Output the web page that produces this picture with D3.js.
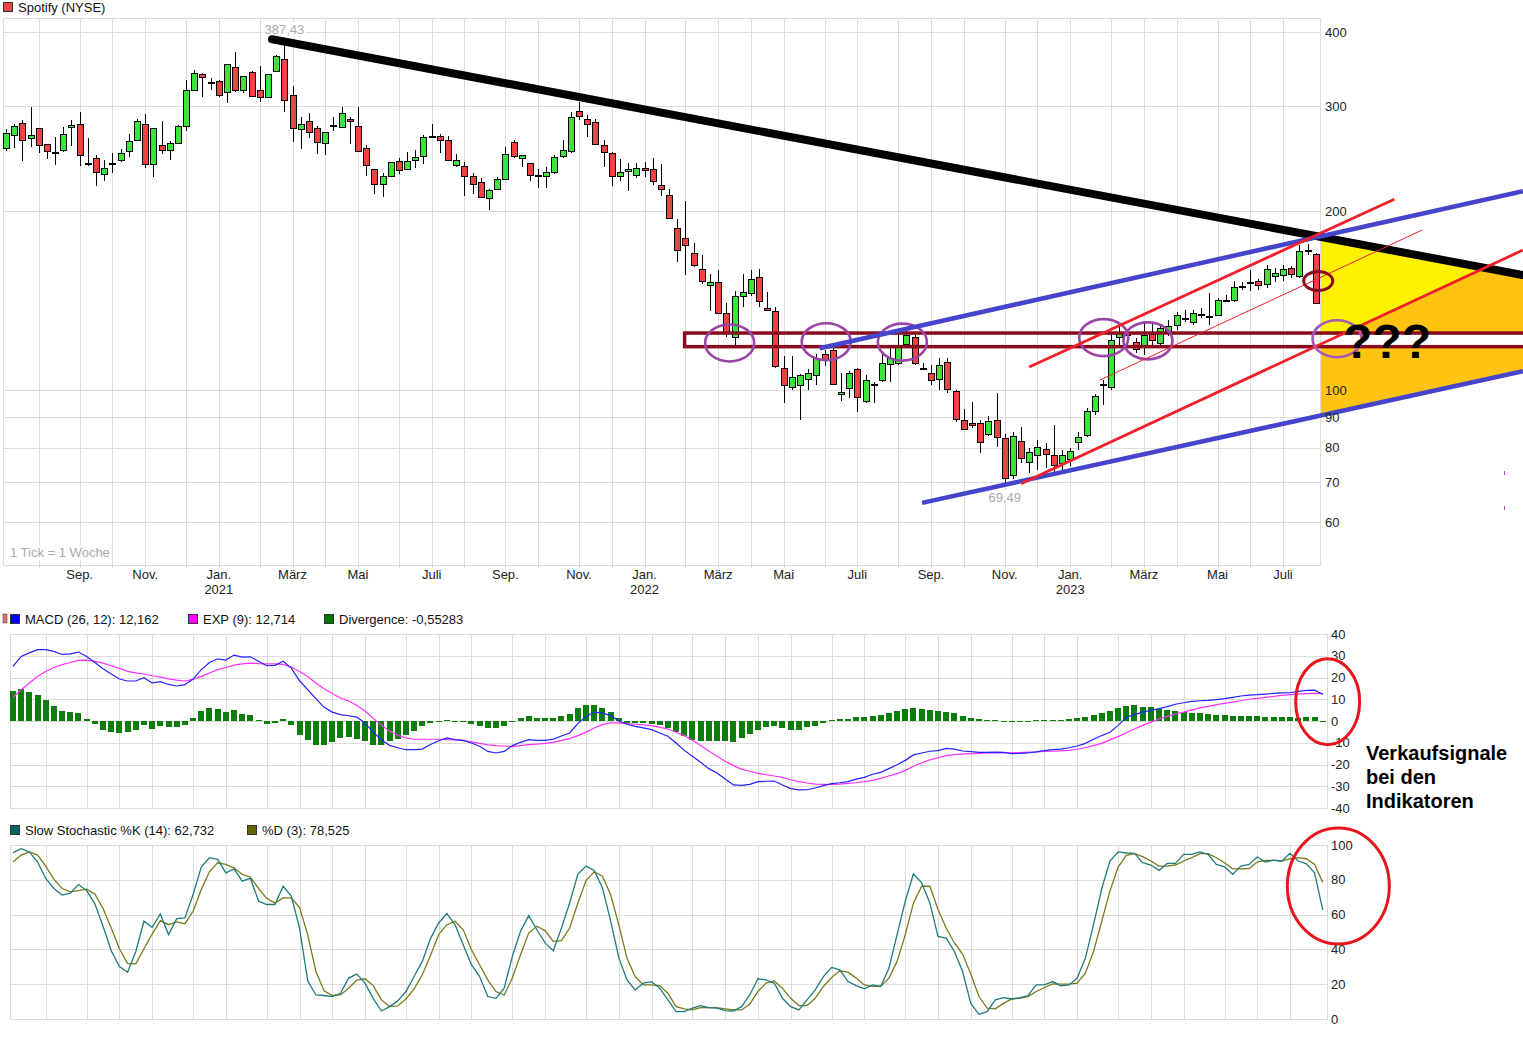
<!DOCTYPE html>
<html>
<head>
<meta charset="utf-8">
<script src="https://cdn.jsdelivr.net/npm/d3@7"></script>
<style>
  body { margin: 0; background: #fff; }
  svg { display: block; font-family: "Liberation Sans", Arial, sans-serif; }
</style>
</head>
<body>
<div id="chart"></div>
<script>
// weekly candles, first week starts Monday 29.06.2020
const START = new Date(2020, 5, 29);

const open = [256,268,281,265,276,259,251,254,277,280, 241,246,231,241,243,252,263,280,240,258,
  253,260,277,319,340,330,331,317,349,320, 343,319,311,343,360,313,275,283,276,261,
  279,277,286,278,255,235,222,229,243,236, 244,247,267,267,263,239,238,229,224,210,
  217,226,261,245,241,229,229,233,247,252, 295,286,282,258,250,229,233,230,236,235,
  221,213,187,180,170,160,150,152,135,123, 144,146,155,137.5,136,109,101,102,104.5,106,
  115,117,98.5,100.8,108.5,96,102,104,110.5,111, 119.5,122.7,109,107,104,111.3,99.6,89,88,88,
  84.3,89,83,72,82,75.7,77.8,79.6,77.8,75.4, 76.6,81.7,84,92.2,102,101,122.7,123.7,120.4,118.6,
  124.2,119.9,125.1,128.6,132,130,134,133.2,133.7,141.5, 141.7,149.5,151.9,152.5,150.7,155.5,156.1,160.3,155.5,171.9,
  169.3];
const high = [275,280,285,299,276,259,266,277,284,294, 265,248,244,250,254,269,286,291,276,283,
  262,279,332,345,341,335,332,354,370,338, 344,350,340,366,387.43,325,288,292,278,272,
  288,299,288,299,258,235,232,242,246,251, 253,268,280,269,267,249,242,232,227,218,
  228,256,263,248,241,235,237,248,263,293, 305,290,286,263,251,245,241,241,242,246,
  240,218,194,208,177,169,157,159,140,147, 157,159,160,146,138,114,114,106.5,108.5,115,
  117,117.5,107,107.5,109,106,103,115,118,124.7, 125.6,124,111,110,113,113,100,93,95.5,89,
  90.5,98.8,84.4,85,86.6,79.9,82.4,81.4,87.3,79.3, 80,85,93.3,98.5,104,124.2,128.6,126,122.2,130,
  130,128.6,131.1,135.3,136.3,136.3,137.4,145.5,142.8,144.4, 152.5,151.9,159,154,162.2,160.3,162.2,161.6,175.3,176,
  169.9];
const low = [252,255,243,256,250,245,239,251,257,238, 238,220,225,232,242,247,263,236,228,249,
  244,259,273,318,311,319,311,304,317,316, 312,305,310,342,294,261,254,265,249,248,
  273,277,259,252,229,214,211,229,231,236, 236,240,265,250,243,237,212,214,211,201,
  217,226,246,237,225,219,219,231,246,250, 284,266,258,237,220,225,216,227,228,221,
  212,194,164,156,161,151,136,134,123,119, 138,144,138,136,109,95,100,89,100,102,
  109.8,102,96,97,92,95,95,103,103,110, 118.6,110,108,102,100,99,88.4,85.7,86.3,78.4,
  83.7,80.1,69.49,71,75.5,72.5,73.4,74,72.8,73.4, 74.5,79.3,83.4,90.8,94.4,100,119,121.3,115.4,114.5,
  119,119,123.2,126.1,130,128.6,132.2,128.6,133.2,140.6, 140.6,147.3,146.7,147.3,148.4,151.9,152.5,154.3,154.3,168.6,
  139.5];
const close = [271,278,263,268,258,252,251.5,270,279,248, 240,233,236,240,250,262,283,240,276,253,
  260,278,319,341,336,329,314,353,319,338, 313,311,340,364,307,275,280,271,261,272,
  279.5,292,284,252,239,222,229,242,235,243, 247,266,267.5,263,243,244,229,222,211,217,
  226,249,247,248,230,229.5,233,247,253,288, 289,280,259,251,229,233,235,236,234,224,
  218,195,172,175,162,153,152,135,125,144, 146,154,141,136.5,110,102,105,106,107,113,
  113,102.5,99.2,107,97.5,104,102.3,111,113,118, 123.7,111,108.8,104,110,100.4,89.4,86,87.3,81.8,
  88.6,83.4,71,83.7,76.7,78.7,80.2,78.1,74.8,77.8, 79,83.4,92.2,97.7,102.3,121.3,124.7,124.2,117.2,123.7,
  121.3,127.1,128.1,133.7,132.2,134.7,134.2,133.4,141.7,141.7, 149,149.8,152.2,150,159.7,157.3,159.7,156.7,171.3,172.2,
  140.3];

// MACD (26, 12), EXP (9), divergence
const macdLine = [25.1,29.7,31.3,32.8,32.8,32.0,30.6,30.9,31.7,29.7, 26.9,24.0,21.6,19.3,18.4,18.4,19.9,17.5,18.1,16.8,
  16.1,16.7,19.3,23.6,26.9,28.6,28.0,30.3,29.4,29.5, 27.5,25.4,25.6,27.5,24.3,18.5,14.4,10.3,6.3,4.1,
  2.9,2.4,1.8,-0.9,-5.1,-8.6,-11.2,-12.3,-13.2,-13.2, -12.9,-10.8,-9.1,-7.8,-8.6,-8.9,-10.1,-11.6,-14.0,-14.7,
  -14.0,-11.3,-9.8,-8.6,-8.9,-8.9,-8.3,-6.9,-5.5,-1.2, 2.1,4.1,3.7,2.5,0.0,-1.5,-2.5,-3.2,-4.0,-5.5,
  -7.0,-10.1,-13.5,-16.2,-19.0,-21.9,-23.9,-26.7,-29.4,-29.6, -29.1,-27.9,-27.7,-27.6,-29.4,-31.1,-31.7,-31.6,-30.8,-29.7,
  -28.8,-28.4,-27.9,-26.7,-25.9,-24.5,-23.6,-21.9,-20.1,-18.1, -15.6,-14.7,-13.9,-13.6,-12.6,-12.9,-13.8,-14.1,-14.4,-14.4,
  -14.3,-14.4,-15.0,-14.9,-14.7,-14.2,-13.6,-13.2,-12.9,-12.3, -11.5,-10.3,-8.4,-6.7,-5.2,-2.0,1.7,2.9,4.1,4.9,
  5.7,6.6,7.7,8.4,9.0,9.3,9.5,9.8,10.3,10.9, 11.5,11.9,12.1,12.4,12.7,12.9,13.0,13.6,14.1,14.2,
  12.162];
const signalLine = [10.9,14.4,17.5,20.5,22.8,24.6,25.9,26.9,27.9,28.0, 27.4,26.6,25.4,24.2,22.8,22.1,21.6,20.8,20.2,19.4,
  18.8,18.4,19.1,20.5,22.1,23.6,24.6,25.7,26.3,26.6, 26.4,26.3,26.3,26.0,24.8,22.8,20.5,17.5,14.8,12.6,
  10.6,9.2,7.2,4.6,1.2,-2.0,-4.6,-6.6,-7.8,-8.4, -8.4,-8.4,-8.4,-8.6,-8.7,-9.0,-9.6,-10.3,-11.0,-11.3,
  -11.5,-11.8,-11.3,-10.9,-10.6,-10.3,-9.8,-8.9,-8.1,-6.7, -5.1,-3.2,-1.7,-0.9,-0.9,-1.2,-1.5,-1.8,-2.1,-2.8,
  -3.7,-5.2,-6.7,-8.9,-11.3,-13.8,-16.2,-18.5,-20.5,-22.1, -23.1,-24.1,-24.7,-25.3,-25.9,-27.0,-27.9,-28.5,-29.0,-29.1,
  -29.1,-29.0,-28.7,-28.4,-27.9,-27.3,-26.4,-25.3,-24.2,-22.7, -20.8,-19.2,-17.9,-16.9,-15.9,-15.5,-15.2,-15.0,-14.9,-14.7,
  -14.7,-14.7,-14.6,-14.5,-14.3,-14.2,-14.0,-13.9,-13.7,-13.5, -13.0,-12.3,-11.3,-10.3,-8.7,-7.2,-5.4,-3.7,-2.0,-0.5,
  0.9,2.1,3.2,4.1,5.1,6.0,6.7,7.5,8.1,8.7, 9.3,10.0,10.4,10.9,11.3,11.8,12.1,12.4,12.6,12.75,
  12.714];
const divergence = [13.9,14.7,13.5,12.1,9.8,7.0,4.8,4.3,3.8,1.1, -1.5,-4.0,-4.9,-5.7,-5.2,-4.0,-2.0,-3.7,-2.5,-2.9,
  -2.9,-2.0,1.5,4.8,6.0,5.7,4.1,5.2,3.4,2.9, 0.6,-1.5,-0.9,1.1,-1.8,-6.3,-8.6,-11.2,-10.9,-9.8,
  -8.0,-7.4,-8.1,-9.2,-10.9,-10.9,-9.3,-8.1,-6.3,-4.6, -2.5,-1.0,-0.4,0.3,-0.3,-0.3,-1.5,-2.5,-3.4,-3.4,
  -2.5,-0.6,1.5,2.5,1.5,1.5,1.5,2.5,3.4,6.1, 7.5,7.5,6.1,4.3,1.5,-0.9,-0.9,-0.9,-1.2,-1.8,
  -3.4,-4.9,-7.0,-8.6,-9.0,-9.3,-9.3,-9.3,-9.8,-8.0, -6.1,-4.0,-2.8,-2.5,-3.4,-4.0,-4.0,-2.8,-2.1,-0.9,
  0.3,1.1,1.1,1.8,1.8,2.5,2.9,3.7,4.8,5.7, 6.1,5.5,5.1,4.6,4.3,3.7,2.5,1.5,1.1,0.6,
  0.6,0.2,-0.5,0.2,0.2,0.3,0.6,0.6,0.6,0.9, 1.2,1.8,2.9,3.7,4.6,6.0,7.0,7.5,6.6,6.4,
  5.5,5.2,4.6,4.1,3.8,3.5,3.1,2.9,2.6,2.5, 2.3,2.3,2.1,2.0,1.8,1.8,1.7,1.5,1.8,1.8,
  -0.55283];

// Slow Stochastic %K (14), %D (3)
const stochK = [95.6,97.9,96,90.2,80.8,75,71.2,72.3,77.3,73.8, 66.2,53.3,39.2,30.2,26.9,38.8,56.2,52.7,60.4,48.5,
  57.7,58.1,71.5,87.3,92.7,91.7,84,86.3,79.2,80.8, 67.7,65.8,65.8,76.3,70.6,52.3,21.9,13.8,13.5,12.9,
  14.8,23.5,25.8,20.6,11.9,4.6,7.1,10.4,15.8,24.4, 33.1,46.2,55.2,60.6,54.2,42.7,31.2,24.4,12.9,11.9,
  17.7,36,50.4,59.4,51.3,43.7,39.2,52.3,66.7,83.1, 87.9,85.4,75.4,56.5,35.4,22.5,16.7,20.6,21.5,17.7,
  11,4.2,4.2,6.2,7.7,6.5,6.2,4.8,4.6,7.1, 13.8,23.1,22.5,20.6,11.9,7.1,5.2,11,16.7,24.4,
  29.6,28.3,21.5,19.2,17.3,19.6,18.7,29.2,48.5,67.7, 83.5,78.3,66.7,47.5,46.5,38.8,27.3,9.0,2.7,4.2,
  11,12.3,11.5,12.3,13.5,19.6,19.6,21.5,19.0,19.6, 23.5,35,54.2,75,90.8,96,95.4,95.2,89.8,88.5,
  85.4,89.4,89.4,94.6,94.6,96,94.6,88.8,87.5,83.1, 87.9,88.8,93.1,90.2,91.3,90.8,95.2,90.8,89.2,84,
  62.732];
const stochD = [90.2,94.2,96,94.2,87.9,80.2,75,73.1,73.8,74.6, 71.9,63.5,52.3,40.4,31.9,31.7,40.4,48.8,56.5,54.2,
  55.8,54.8,61.9,74.4,84.6,89.8,88.8,86.9,83.1,81.5, 75,69.2,66.7,69.6,69.6,64.2,48.5,27.3,16.2,13.5,
  13.8,17.7,22.3,23.1,19.2,11,7.1,7.5,11.5,17.3, 25.4,36.5,48.5,54.2,56.2,51.3,39.8,31.2,22.5,15.8,
  13.8,23.5,36.9,49.4,53.3,50.8,44.6,45,52.3,66.7, 79.6,84.6,82.1,71.5,54.2,35,24.4,19.6,19.6,19.2,
  14.8,7.1,5.8,5.2,6.5,6.5,6.5,5.8,5.2,5.2, 8.5,15.8,20.6,21.9,17.7,11.9,7.7,7.7,11.9,18.7,
  23.8,27.7,26.9,23.5,19.6,18.7,18.7,23.5,33.1,48.5, 66.7,76.3,76.3,62.9,52.3,43.7,37.3,25.8,12.9,6.2,
  5.8,9.0,11.5,11.9,12.9,15.8,18.1,20.2,20,20, 20.6,26.3,38.8,56.2,73.5,87.3,94,95,93.3,90.8,
  87.9,87.9,88.5,90.8,92.7,95,95,92.7,89.8,86.3, 86.3,86.5,90.2,91.2,91.2,90.8,92.1,92.7,92.1,88.8,
  78.525];

// tick labels
const priceTicks = [400, 300, 200, 100, 90, 80, 70, 60];
const macdTicks = [40, 30, 20, 10, 0, -10, -20, -30, -40];
const stochTicks = [100, 80, 60, 40, 20, 0];
const monthNames = ["Jan.", "Feb.", "März", "Apr.", "Mai", "Juni", "Juli", "Aug.", "Sep.", "Okt.", "Nov.", "Dez."];

// hand drawn analysis, as [week index, price]
const resistance = [[32.5, 389], [185.3, 156.1]];
const channelTop = [[99.4, 117.6], [185.3, 216]];
const channelBottom = [[111.9, 64.6], [185.3, 107.6]];
const redUpper = [[125.0, 109.3], [169.6, 209.4]];
const redLower = [[124.0, 69.6], [185.3, 171.9]];
const redThin = [[133.6, 103.9], [173.0, 185.8]];
const supportZone = [[82.9, 124.7], [190, 118.3]];
const touchPoints = [[88.4, 120], [100.2, 120.6], [109.5, 120.4], [134.1, 122.5], [139.5, 121.0]];
const nextTouch = [162.6, 122.0];
const breakPoint = [160.3, 152.5];
const macdSignalAt = [160.6, 8.9];
const stochSignalAt = [161.9, 76.4];

const WIDTH = 1523, HEIGHT = 1043;
const FONT = 13;
const N = close.length;
const STEP = 8.186;
const PRICE_BOX = {left: 3, right: 1320, top: 18, bottom: 565};
const MACD_BOX = {left: 10, right: 1327, top: 634, bottom: 808};
const STOCH_BOX = {left: 10, right: 1327, top: 845, bottom: 1019};

const svg = d3.select("#chart").append("svg")
    .attr("width", WIDTH)
    .attr("height", HEIGHT);

const xPrice = d3.scaleLinear().domain([0, N - 1]).range([6, 6 + (N - 1) * STEP]);
const xInd = d3.scaleLinear().domain([0, N - 1]).range([13, 13 + (N - 1) * STEP]);
const yPrice = d3.scaleLog().domain([60, 400]).range([522, 32]);
const yMacd = d3.scaleLinear().domain([-40, 40]).range([808, 634]);
const yStoch = d3.scaleLinear().domain([0, 100]).range([1019, 845]);

const crisp = (v) => Math.round(v) + 0.5;
const comma = (v) => String(v).replace(".", ",");

// months: gridline on the week that contains the 1st
const monthStarts = [];
for (let i = 1; i < N; i++) {
  const end = d3.timeDay.offset(START, 7 * i + 6);
  const prev = d3.timeDay.offset(START, 7 * i - 1);
  if (end.getMonth() !== prev.getMonth()) {
    monthStarts.push({i: i, month: end.getMonth(), year: end.getFullYear()});
  }
}

function drawGrid(box, x, y, ticks, tickLen) {
  const g = svg.append("g")
      .attr("stroke", "#dcdcdc")
      .attr("shape-rendering", "crispEdges");
  g.selectAll("line.v").data(monthStarts).join("line")
      .attr("x1", (d) => crisp(x(d.i)))
      .attr("x2", (d) => crisp(x(d.i)))
      .attr("y1", box.top)
      .attr("y2", box.bottom + (tickLen || 0));
  g.selectAll("line.h").data(ticks).join("line")
      .attr("x1", box.left)
      .attr("x2", box.right)
      .attr("y1", (d) => crisp(y(d)))
      .attr("y2", (d) => crisp(y(d)));
  g.append("rect")
      .attr("x", box.left + 0.5)
      .attr("y", box.top + 0.5)
      .attr("width", box.right - box.left)
      .attr("height", box.bottom - box.top)
      .attr("fill", "none");
}

function drawRightAxis(scale, ticks, xPos, pad) {
  const ax = svg.append("g")
      .attr("transform", "translate(" + xPos + ",0)")
      .call(d3.axisRight(scale).tickValues(ticks).tickSize(0).tickPadding(pad)
        .tickFormat((d) => String(d)));
  ax.select(".domain").remove();
  ax.attr("font-size", FONT)
      .attr("font-family", "'Liberation Sans', Arial, sans-serif")
      .attr("color", "#222");
}

function legendItem(x, y, color, label) {
  svg.append("rect")
      .attr("x", x + 0.5).attr("y", y - 4.5)
      .attr("width", 9).attr("height", 9)
      .attr("fill", color).attr("stroke", "#333");
  svg.append("text")
      .attr("x", x + 15).attr("y", y + 4.5)
      .attr("font-size", FONT).attr("fill", "#111")
      .text(label);
}

// grey label on a white patch
function boxedLabel(x, y, anchor, str) {
  const t = svg.append("text")
      .attr("x", x).attr("y", y)
      .attr("text-anchor", anchor).attr("font-size", FONT).attr("fill", "#aaa")
      .text(str);
  const b = t.node().getBBox();
  svg.insert("rect", () => t.node())
      .attr("x", b.x - 2).attr("y", b.y)
      .attr("width", b.width + 4).attr("height", b.height)
      .attr("fill", "#fff");
}

// ---------- price panel ----------
drawGrid(PRICE_BOX, xPrice, yPrice, priceTicks, 3);
legendItem(3, 7, "#ee4444", "");
svg.append("text").attr("x", 18).attr("y", 12)
    .attr("font-size", FONT).attr("fill", "#111").text("Spotify (NYSE)");

const candles = d3.range(N).map((i) => ({i: i, o: open[i], h: high[i], l: low[i], c: close[i]}));

const candleG = svg.append("g").attr("shape-rendering", "crispEdges");
candleG.selectAll("line").data(candles).join("line")
    .attr("x1", (d) => crisp(xPrice(d.i)))
    .attr("x2", (d) => crisp(xPrice(d.i)))
    .attr("y1", (d) => yPrice(d.h))
    .attr("y2", (d) => yPrice(d.l))
    .attr("stroke", "#000")
    .attr("stroke-width", 1.2);
candleG.selectAll("rect").data(candles).join("rect")
    .attr("x", (d) => Math.round(xPrice(d.i)) - 2.5)
    .attr("width", 6)
    .attr("y", (d) => Math.round(yPrice(Math.max(d.o, d.c))) + 0.5)
    .attr("height", (d) => Math.max(1, Math.round(Math.abs(yPrice(d.o) - yPrice(d.c)))))
    .attr("fill", (d) => d.c >= d.o ? "#3de43d" : "#ef4343")
    .attr("stroke", "#000")
    .attr("stroke-width", 1.2);

// high / low labels
const hiIdx = d3.maxIndex(high), loIdx = d3.minIndex(low);
boxedLabel(xPrice(hiIdx), yPrice(high[hiIdx]) - 6, "middle", comma(high[hiIdx].toFixed(2)));
boxedLabel(xPrice(loIdx), yPrice(low[loIdx]) + 18, "middle", comma(low[loIdx].toFixed(2)));
boxedLabel(10, 557, "start", "1 Tick = 1 Woche");

// month labels
const labelled = monthStarts.filter((d) => d.month % 2 === 0);
svg.selectAll("text.month").data(labelled).join("text")
    .attr("x", (d) => xPrice(d.i))
    .attr("y", 579)
    .attr("text-anchor", "middle")
    .attr("font-size", FONT)
    .attr("fill", "#222")
    .text((d) => monthNames[d.month]);
svg.selectAll("text.year").data(labelled.filter((d) => d.month === 0)).join("text")
    .attr("x", (d) => xPrice(d.i))
    .attr("y", 594)
    .attr("text-anchor", "middle")
    .attr("font-size", FONT)
    .attr("fill", "#222")
    .text((d) => d.year);

// ---------- drawn analysis ----------
const toPx = (p) => [xPrice(p[0]), yPrice(p[1])];
function yAt(seg, px) {
  const a = toPx(seg[0]), b = toPx(seg[1]);
  return a[1] + (b[1] - a[1]) * (px - a[0]) / (b[0] - a[0]);
}
function cross(s1, s2) {
  const a = toPx(s1[0]), b = toPx(s1[1]), c = toPx(s2[0]), d = toPx(s2[1]);
  const m1 = (b[1] - a[1]) / (b[0] - a[0]), m2 = (d[1] - c[1]) / (d[0] - c[0]);
  const x = (c[1] - a[1] + m1 * a[0] - m2 * c[0]) / (m1 - m2);
  return [x, a[1] + m1 * (x - a[0])];
}

const R = PRICE_BOX.right + 1, W = WIDTH;
svg.append("polygon")
    .attr("points", [[R, yAt(resistance, R)], [W, yAt(resistance, W)],
      [W, yAt(channelBottom, W)], [R, yAt(channelBottom, R)]].join(" "))
    .attr("fill", "#ffc412");
svg.append("polygon")
    .attr("points", [[R, yAt(resistance, R)], cross(resistance, redLower),
      [R, yAt(redLower, R)]].join(" "))
    .attr("fill", "#fff200");

const zTop = yPrice(supportZone[0][1]), zBot = yPrice(supportZone[1][1]);
svg.append("rect")
    .attr("x", R).attr("y", zTop).attr("width", W - R).attr("height", zBot - zTop)
    .attr("fill", "#fff");
svg.append("rect")
    .attr("x", xPrice(supportZone[0][0])).attr("y", zTop)
    .attr("width", xPrice(supportZone[1][0]) - xPrice(supportZone[0][0]))
    .attr("height", zBot - zTop)
    .attr("fill", "none").attr("stroke", "#8b0b1e").attr("stroke-width", 3.5);

svg.selectAll("ellipse.touch").data(touchPoints).join("ellipse")
    .attr("cx", (d) => xPrice(d[0])).attr("cy", (d) => yPrice(d[1]))
    .attr("rx", 24.5).attr("ry", 18.5)
    .attr("fill", "none").attr("stroke", "#9a45a6").attr("stroke-width", 2.6);

function drawSeg(seg, color, width, cap) {
  svg.append("line")
      .attr("x1", toPx(seg[0])[0]).attr("y1", toPx(seg[0])[1])
      .attr("x2", toPx(seg[1])[0]).attr("y2", toPx(seg[1])[1])
      .attr("stroke", color).attr("stroke-width", width)
      .attr("stroke-linecap", cap || "butt");
}
drawSeg(resistance, "#000", 8, "round");
drawSeg(channelTop, "#4545cc", 4.5);
drawSeg(channelBottom, "#4545cc", 4.5);
drawSeg(redUpper, "#f0202a", 2.8);
drawSeg(redLower, "#f0202a", 2.8);
drawSeg(redThin, "#f0202a", 1);

svg.append("ellipse")
    .attr("cx", xPrice(nextTouch[0])).attr("cy", yPrice(nextTouch[1]))
    .attr("rx", 24.5).attr("ry", 18.5)
    .attr("fill", "none").attr("stroke", "#a659b3").attr("stroke-width", 2.6);
svg.append("ellipse")
    .attr("cx", xPrice(breakPoint[0])).attr("cy", yPrice(breakPoint[1]))
    .attr("rx", 14.5).attr("ry", 9.5)
    .attr("fill", "none").attr("stroke", "#8b0b1e").attr("stroke-width", 3);

drawRightAxis(yPrice, priceTicks, PRICE_BOX.right, 5);

svg.append("text").attr("x", 1343).attr("y", 358)
    .attr("font-size", 48).attr("font-weight", "bold").attr("fill", "#000")
    .text("???");

svg.selectAll("line.tick-mark").data([473, 508]).join("line")
    .attr("x1", 1504.5).attr("x2", 1504.5)
    .attr("y1", (d) => d - 2).attr("y2", (d) => d + 2)
    .attr("stroke", "#a050b0").attr("stroke-width", 1);

// ---------- MACD panel ----------
drawGrid(MACD_BOX, xInd, yMacd, macdTicks);
svg.append("rect").attr("x", 3).attr("y", 614).attr("width", 4).attr("height", 9)
    .attr("fill", "#e07070").attr("stroke", "#333").attr("stroke-width", 0.5);
legendItem(10, 619, "#0000ff", "MACD (26, 12): " + comma(macdLine[N - 1]));
legendItem(188, 619, "#ff00ff", "EXP (9): " + comma(signalLine[N - 1]));
legendItem(324, 619, "#007700", "Divergence: " + comma(divergence[N - 1]));

svg.append("g").attr("shape-rendering", "crispEdges")
  .selectAll("rect").data(divergence).join("rect")
    .attr("x", (d, i) => Math.round(xInd(i)) - 3)
    .attr("width", 6)
    .attr("y", (d) => Math.round(yMacd(Math.max(0, d))))
    .attr("height", (d) => Math.max(1, Math.round(Math.abs(yMacd(d) - yMacd(0)))))
    .attr("fill", "#0a7d0a");

const macdPath = d3.line().x((d, i) => xInd(i)).y((d) => yMacd(d));
svg.append("path").datum(signalLine)
    .attr("d", macdPath).attr("fill", "none")
    .attr("stroke", "#ff30ff").attr("stroke-width", 1.2);
svg.append("path").datum(macdLine)
    .attr("d", macdPath).attr("fill", "none")
    .attr("stroke", "#2222ff").attr("stroke-width", 1.2);

drawRightAxis(yMacd, macdTicks, MACD_BOX.right, 4);

svg.append("ellipse")
    .attr("cx", xInd(macdSignalAt[0])).attr("cy", yMacd(macdSignalAt[1]))
    .attr("rx", 32).attr("ry", 43)
    .attr("fill", "none").attr("stroke", "#e8141e").attr("stroke-width", 3);

const note = svg.append("text").attr("x", 1366).attr("font-size", 20)
    .attr("font-weight", "bold").attr("fill", "#000");
["Verkaufsignale", "bei den", "Indikatoren"].forEach((t, k) => {
  note.append("tspan").attr("x", 1366).attr("y", 760 + k * 24).text(t);
});

// ---------- stochastic panel ----------
drawGrid(STOCH_BOX, xInd, yStoch, stochTicks);
legendItem(10, 830, "#006666", "Slow Stochastic %K (14): " + comma(stochK[N - 1]));
legendItem(247, 830, "#666600", "%D (3): " + comma(stochD[N - 1]));

const stochPath = d3.line().x((d, i) => xInd(i)).y((d) => yStoch(d));
svg.append("path").datum(stochD)
    .attr("d", stochPath).attr("fill", "none")
    .attr("stroke", "#7a7a1c").attr("stroke-width", 1.3);
svg.append("path").datum(stochK)
    .attr("d", stochPath).attr("fill", "none")
    .attr("stroke", "#1f7c7c").attr("stroke-width", 1.3);

drawRightAxis(yStoch, stochTicks, STOCH_BOX.right, 4);

svg.append("ellipse")
    .attr("cx", xInd(stochSignalAt[0])).attr("cy", yStoch(stochSignalAt[1]))
    .attr("rx", 51).attr("ry", 58)
    .attr("fill", "none").attr("stroke", "#e8141e").attr("stroke-width", 3);
</script>
</body>
</html>
